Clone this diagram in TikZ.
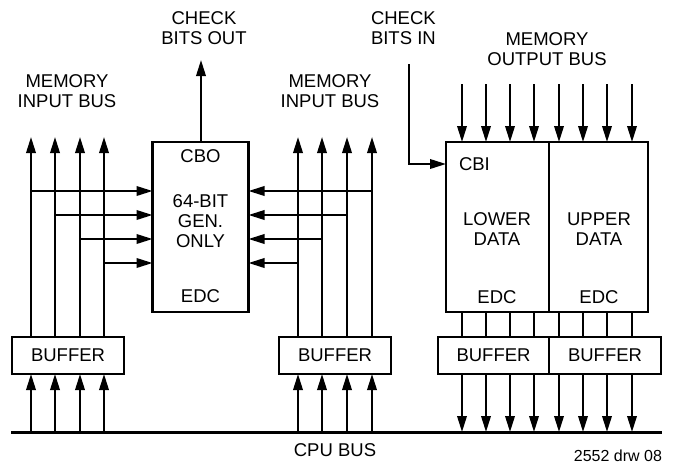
\documentclass[tikz,border=0pt]{standalone}
\usepackage{fontspec}
\setmainfont{Liberation Sans}
\usetikzlibrary{arrows.meta}
\begin{document}
\begin{tikzpicture}[x=1pt,y=-1pt,
  every node/.style={font=\fontsize{18.5}{20}\selectfont, inner sep=0pt, outer sep=0pt, align=center},
  wire/.style={line width=2pt},
  arr/.style={wire, -{Triangle[length=16pt,width=9.5pt]}},
  box/.style={draw, line width=2.6pt, fill=white},
  bus/.style={line width=3pt}]
\useasboundingbox (0,0) rectangle (679,466);

% boxes
\node[box, minimum width=112pt, minimum height=37pt] (buf1) at (68,355.5) {BUFFER};
\node[box, minimum width=96pt, minimum height=170pt] (gen) at (200.5,227) {};
\node[box, minimum width=112pt, minimum height=37pt] (buf2) at (335,355.5) {BUFFER};
\node[box, minimum width=103pt, minimum height=170pt] (lower) at (497.5,227) {};
\node[box, minimum width=99pt, minimum height=170pt] (upper) at (598.5,227) {};
\node[box, minimum width=111pt, minimum height=37pt] (buf3) at (493.5,355.5) {BUFFER};
\node[box, minimum width=112pt, minimum height=37pt] (buf4) at (605,355.5) {BUFFER};

% inner texts
\node (cbo) at (200.5,156) {CBO};
\node (gentxt) at (200.5,221) {64-BIT\\GEN.\\ONLY};
\node (edc1) at (200.5,296) {EDC};
\node[anchor=west] (cbi) at (459,164) {CBI};
\node (lowtxt) at (497,229) {LOWER\\DATA};
\node (uptxt) at (599,229) {UPPER\\DATA};
\node (edc2) at (497,297) {EDC};
\node (edc3) at (599,297) {EDC};

% labels
\node (cbout) at (204,28) {CHECK\\BITS OUT};
\node (mib1) at (67,91) {MEMORY\\INPUT BUS};
\node (mib2) at (330,91) {MEMORY\\INPUT BUS};
\node[anchor=west, align=left] (cbin) at (371,28) {CHECK\\BITS IN};
\node (mob) at (547,49) {MEMORY\\OUTPUT BUS};
\node (cpubus) at (335,450) {CPU BUS};
\node[anchor=east, font=\fontsize{16}{18}\selectfont] (drw) at (662,456) {2552 drw 08};

% CPU bus
\coordinate (busL) at (11,432);
\coordinate (busR) at (662,432);
\draw[bus] (busL) -- (busR);

% left group
\foreach \x in {31,55,80,104} {
  \draw[arr] (\x,0 |- busL) -- (\x,0 |- buf1.south);
  \draw[arr] (\x,0 |- buf1.north) -- (\x,137);
}
\draw[arr] (31,191) -- (gen.west |- 0,191);
\draw[arr] (55,215) -- (gen.west |- 0,215);
\draw[arr] (80,239) -- (gen.west |- 0,239);
\draw[arr] (104,263) -- (gen.west |- 0,263);

% middle group
\foreach \x in {298,322,347,372} {
  \draw[arr] (\x,0 |- busL) -- (\x,0 |- buf2.south);
  \draw[arr] (\x,0 |- buf2.north) -- (\x,137);
}
\draw[arr] (372,191) -- (gen.east |- 0,191);
\draw[arr] (347,215) -- (gen.east |- 0,215);
\draw[arr] (322,239) -- (gen.east |- 0,239);
\draw[arr] (298,263) -- (gen.east |- 0,263);

% check bits out
\draw[arr] (gen.north -| 201,0) -- (201,60);

% check bits in
\coordinate (cbistart) at (409,64);
\draw[arr] (cbistart) -- (409,164) -- (lower.west |- 0,164);

% right group
\foreach \x in {462,486,510,534} {
  \draw[arr] (\x,84) -- (\x,0 |- lower.north);
  \draw[wire] (\x,0 |- lower.south) -- (\x,0 |- buf3.north);
  \draw[arr] (\x,0 |- buf3.south) -- (\x,0 |- busL);
}
\foreach \x in {559,583,607,632} {
  \draw[arr] (\x,84) -- (\x,0 |- upper.north);
  \draw[wire] (\x,0 |- upper.south) -- (\x,0 |- buf4.north);
  \draw[arr] (\x,0 |- buf4.south) -- (\x,0 |- busL);
}
\end{tikzpicture}
\end{document}
